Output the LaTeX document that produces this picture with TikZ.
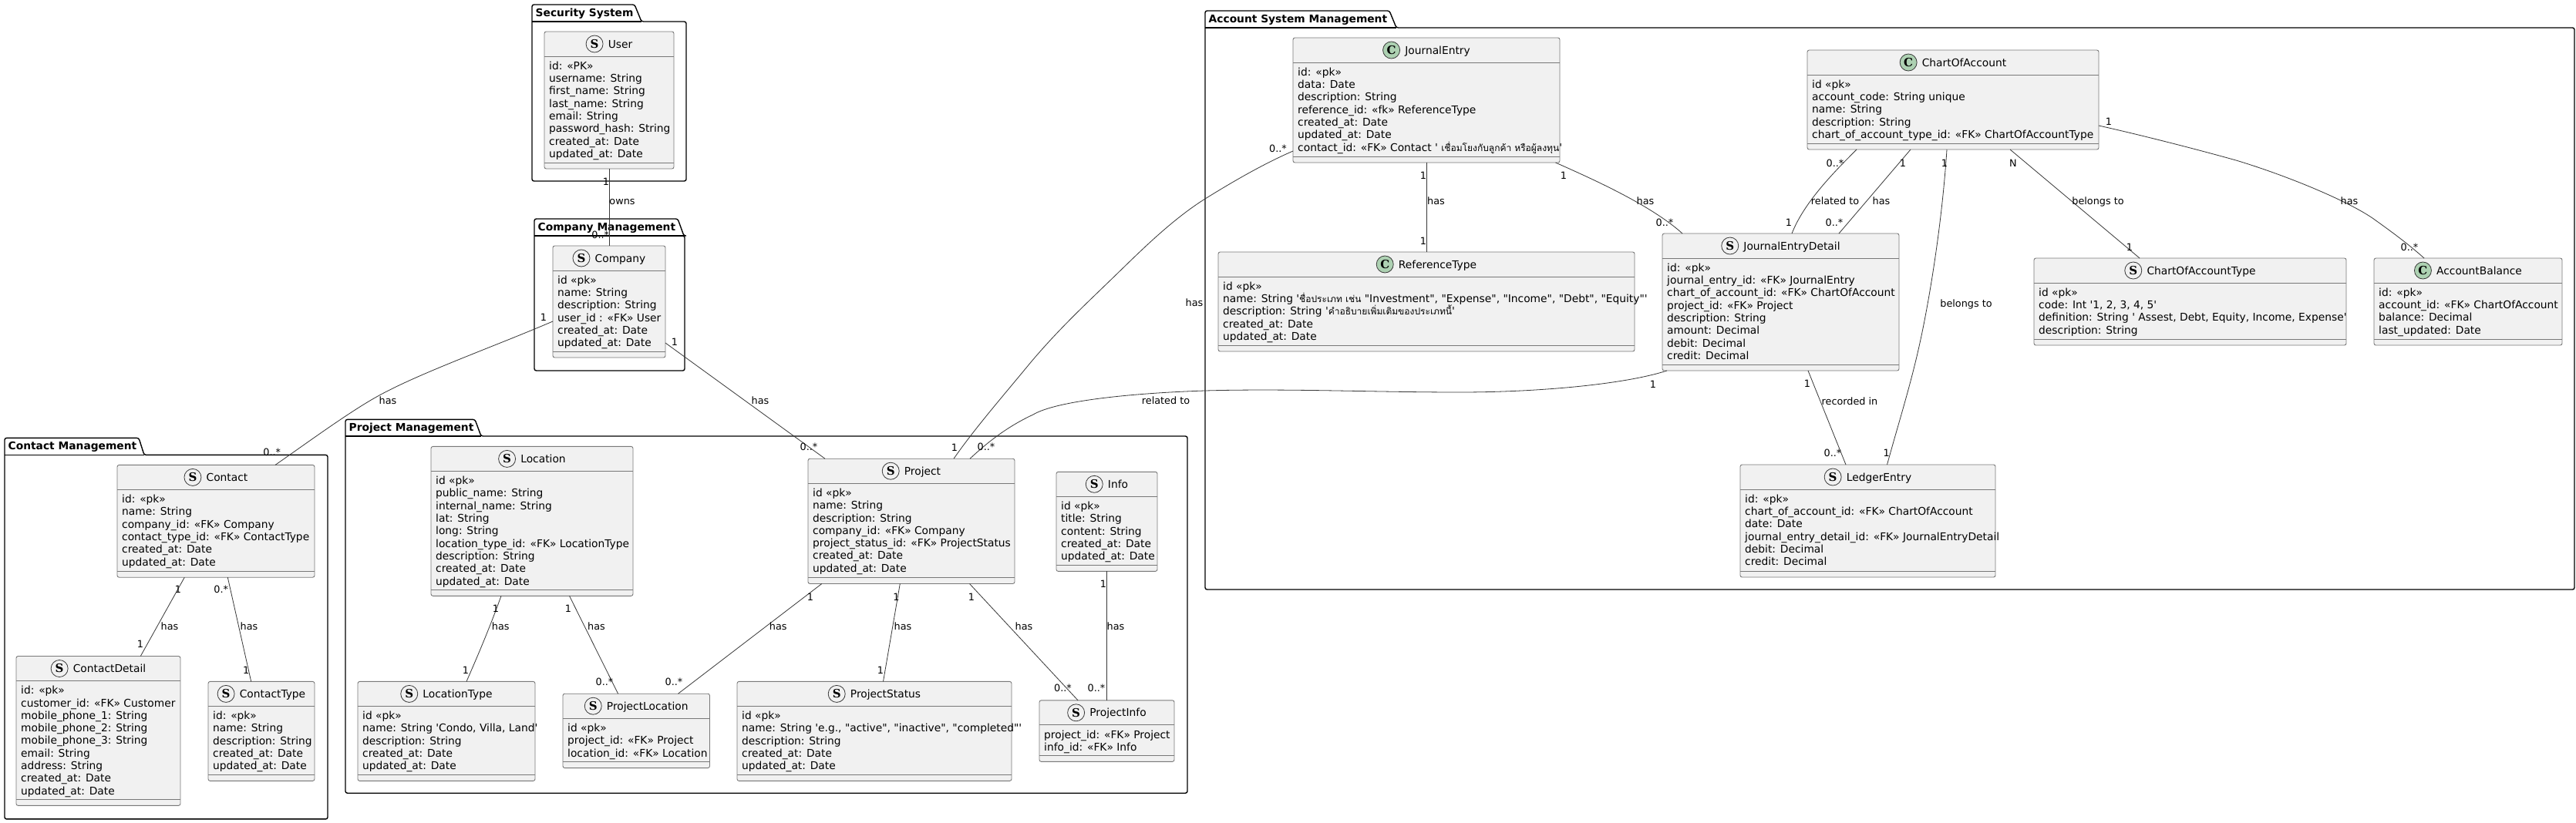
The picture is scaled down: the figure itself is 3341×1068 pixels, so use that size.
\documentclass[tikz,border=0pt]{standalone}
\usepackage{fontspec}
\newfontfamily\umlfont{DejaVu Sans}
\newfontfamily\iconfont{DejaVu Serif}
\newfontfamily\thaifont[Script=Thai]{Loma}
\newcommand{\umlbodyfont}{\umlfont\fontsize{13.8}{16.3}\selectfont}
\newcommand{\umllabfont}{\umlfont\fontsize{12.8}{15}\selectfont}
\newcommand{\umlpkgfont}{\umlfont\bfseries\fontsize{13.8}{16}\selectfont}
\newcommand{\umlthai}[1]{{\thaifont\fontsize{12}{16.3}\selectfont #1}}
\definecolor{boxfill}{HTML}{F1F1F1}
\definecolor{boxline}{HTML}{787878}
\definecolor{conncol}{HTML}{383838}
\definecolor{iconC}{HTML}{ADD1B2}
\tikzset{
  boxbody/.style={draw=boxline,fill=boxfill,line width=0.9pt,rounded corners=2.5pt,inner sep=0pt,outer sep=0pt,rectangle},
  boxrule/.style={draw=boxline,line width=0.9pt},
  boxtitle/.style={font=\umlbodyfont,inner sep=0pt,anchor=base,text=black},
  boxmembers/.style={font=\umlbodyfont,inner sep=0pt,anchor=north west,align=left,text=black},
  iconbase/.style={circle,draw=conncol,line width=0.8pt,minimum size=22pt,inner sep=0pt,font=\iconfont\bfseries\fontsize{15}{15}\selectfont},
  iconkindS/.style={iconbase,fill=boxfill},
  iconkindC/.style={iconbase,fill=iconC},
  pkgline/.style={draw=black,line width=1.4pt,rounded corners=2.5pt,line join=round},
  pkgtitle/.style={font=\umlpkgfont,inner sep=0pt,anchor=base west},
  conn/.style={draw=conncol,line width=0.8pt},
  lab/.style={font=\umllabfont,inner sep=0pt,anchor=center,text height=10pt,text depth=0pt,text=black},
}
% name, x1, y-tab, x-tab-right, x-tab-slant, y-body, x2, y2, title
\newcommand{\umlpkg}[9]{%
  \draw[pkgline] (#2,#6) -- (#2,#3) -- (#4,#3) -- (#5,#6) -- (#7,#6) -- (#7,#8) -- (#2,#8) -- cycle;
  \draw[draw=black,line width=1.4pt] (#2,#6) -- (#5,#6);
  \node[pkgtitle] (#1) at ({#2+4.5},{#3+15}) {#9};
}
% name, x1, y1, x2, y2, kind, title, members
\newcommand{\umlbox}[8]{%
  \node[boxbody,minimum width={(#4-#2)*1pt},minimum height={(#5-#3)*1pt}] (#1) at ({(#2+#4)/2},{(#3+#5)/2}) {};
  \draw[boxrule] ([yshift=-32pt]#1.north west) -- ([yshift=-32pt]#1.north east);
  \draw[boxrule] ([yshift=8pt]#1.south west) -- ([yshift=8pt]#1.south east);
  \node[boxtitle] (#1-title) at ([xshift=14.5pt,yshift=-21pt]#1.north) {#7};
  \node[iconkind#6] (#1-icon) at ([xshift=-17.5pt,yshift=5pt]#1-title.base west) {#6};
  \node[boxmembers] (#1-members) at ([xshift=6pt,yshift=-38pt]#1.north west) {\rule{0pt}{11pt}#8};
}
\newcommand{\lab}[4]{\node[lab] (#1) at (#2,#3) {#4};}
\begin{document}
\begin{tikzpicture}[x=1pt,y=-1pt]
\useasboundingbox (0,0) rectangle (3341,1068);
\fill[white] (0,0) rectangle (3341,1068);

% packages
\umlpkg{pkgSecurity}{690}{6}{823}{832}{28}{890}{235}{Security System}
\umlpkg{pkgCompany}{693}{284}{879}{887}{306}{888}{481}{Company Management}
\umlpkg{pkgAccount}{1563}{14}{1802}{1811}{36}{3339}{765}{Account System Management}
\umlpkg{pkgContact}{6}{568.4}{180}{187}{590.4}{425}{1062.9}{Contact Management}
\umlpkg{pkgProject}{448}{544.4}{616}{624}{566}{1540}{1029.2}{Project Management}

% boxes
\umlbox{user}{706}{41}{874}{219}{S}{User}{id: «PK»\\username: String\\first\_name: String\\last\_name: String\\email: String\\password\_hash: String\\created\_at: Date\\updated\_at: Date}
\umlbox{company}{717}{319}{863}{464}{S}{Company}{id «pk»\\name: String\\description: String\\user\_id : «FK» User\\created\_at: Date\\updated\_at: Date}
\umlbox{journal}{1677}{49}{2023}{211}{C}{JournalEntry}{id: «pk»\\data: Date\\description: String\\reference\_id: «fk» ReferenceType\\created\_at: Date\\updated\_at: Date\\contact\_id: «FK» Contact ' \umlthai{เชื่อมโยงกับลูกค้า หรือผู้ลงทุน}'}
\umlbox{reftype}{1580}{327}{2120}{456}{C}{ReferenceType}{id «pk»\\name: String  '\umlthai{ชื่อประเภท เช่น} "Investment", "Expense", "Income", "Debt", "Equity"'\\description: String  '\umlthai{คำอธิบายเพิ่มเติมของประเภทนี้}'\\created\_at: Date\\updated\_at: Date}
\umlbox{jed}{2156}{303}{2463}{481}{S}{JournalEntryDetail}{id: «pk»\\journal\_entry\_id: «FK» JournalEntry\\chart\_of\_account\_id: «FK» ChartOfAccount\\project\_id: «FK» Project\\description: String\\amount: Decimal\\debit: Decimal\\credit: Decimal}
\umlbox{coa}{2344}{65}{2722}{194}{C}{ChartOfAccount}{id «pk»\\account\_code: String unique\\name: String\\description: String\\chart\_of\_account\_type\_id: «FK» ChartOfAccountType}
\umlbox{coatype}{2638}{335}{3043}{448}{S}{ChartOfAccountType}{id «pk»\\code: Int '1, 2, 3, 4, 5'\\definition: String ' Assest, Debt, Equity, Income, Expense'\\description: String}
\umlbox{balance}{3079}{335}{3323}{448}{C}{AccountBalance}{id: «pk»\\account\_id: «FK» ChartOfAccount\\balance: Decimal\\last\_updated: Date}
\umlbox{ledger}{2257}{603}{2588}{749}{S}{LedgerEntry}{id: «pk»\\chart\_of\_account\_id: «FK» ChartOfAccount\\date: Date\\journal\_entry\_detail\_id: «FK» JournalEntryDetail\\debit: Decimal\\credit: Decimal}
\umlbox{contact}{152}{603.4}{408}{749.2}{S}{Contact}{id: «pk»\\name: String\\company\_id: «FK» Company\\contact\_type\_id: «FK» ContactType\\created\_at: Date\\updated\_at: Date}
\umlbox{cdetail}{21}{851.5}{234}{1045.4}{S}{ContactDetail}{id: «pk»\\customer\_id: «FK» Customer\\mobile\_phone\_1: String\\mobile\_phone\_2: String\\mobile\_phone\_3: String\\email: String\\address: String\\created\_at: Date\\updated\_at: Date}
\umlbox{ctype}{270}{884.4}{408}{1013.4}{S}{ContactType}{id: «pk»\\name: String\\description: String\\created\_at: Date\\updated\_at: Date}
\umlbox{location}{559}{579.4}{821}{773.3}{S}{Location}{id «pk»\\public\_name: String\\internal\_name: String\\lat: String\\long: String\\location\_type\_id: «FK» LocationType\\description: String\\created\_at: Date\\updated\_at: Date}
\umlbox{loctype}{464}{884.4}{694}{1013.4}{S}{LocationType}{id «pk»\\name: String 'Condo, Villa, Land'\\description: String\\created\_at: Date\\updated\_at: Date}
\umlbox{ploc}{730}{900.2}{920.5}{996.6}{S}{ProjectLocation}{id «pk»\\project\_id: «FK» Project\\location\_id: «FK» Location}
\umlbox{pstatus}{956}{884.4}{1312}{1013.4}{S}{ProjectStatus}{id «pk»\\name: String 'e.g., "active", "inactive", "completed"'\\description: String\\created\_at: Date\\updated\_at: Date}
\umlbox{project}{1048}{595.2}{1316}{757.5}{S}{Project}{id «pk»\\name: String\\description: String\\company\_id: «FK» Company\\project\_status\_id: «FK» ProjectStatus\\created\_at: Date\\updated\_at: Date}
\umlbox{info}{1370}{612.3}{1501}{741.4}{S}{Info}{id «pk»\\title: String\\content: String\\created\_at: Date\\updated\_at: Date}
\umlbox{pinfo}{1348}{908.8}{1523}{988.4}{S}{ProjectInfo}{project\_id: «FK» Project\\info\_id: «FK» Info}

% connectors
\draw[conn] (user.south -| 790.3,0) -- (company.north -| 790.3,0);
\draw[conn] (company.west |- 0,417) .. controls (640,450) and (547,483) .. (492,513) .. controls (455,533) and (395,577) .. (contact.north -| 357,0);
\draw[conn] (company.east |- 0,445) -- (project.north -| 1070,0);
\draw[conn] (journal.west |- 0,196) .. controls (1640,212) and (1600,235) .. (1563,258) .. controls (1520,285) and (1480,325) .. (1447,357) .. controls (1410,393) and (1375,425) .. (1337,470) .. controls (1300,515) and (1265,555) .. (project.north -| 1237,0);
\draw[conn] (jed.south -| 2162,0) .. controls (2110,498) and (2000,509) .. (1893,509) .. controls (1780,509) and (1670,504) .. (1563,507) .. controls (1470,510) and (1370,520) .. (1340,538) .. controls (1310,552) and (1285,570) .. (project.north -| 1258,0);
\draw[conn] (contact.south -| 239.3,0) -- (cdetail.north -| 182.3,0);
\draw[conn] (contact.south -| 295.3,0) -- (ctype.north -| 325.7,0);
\draw[conn] (location.south -| 650,0) .. controls (635,815) and (620,850) .. (loctype.north -| 605,0);
\draw[conn] (location.south -| 738.5,0) -- (ploc.north -| 801.6,0);
\draw[conn] (project.south -| 1065.8,0) -- (ploc.north -| 879.5,0);
\draw[conn] (project.south -| 1167.3,0) -- (pstatus.north -| 1145.5,0);
\draw[conn] (project.south -| 1257.5,0) -- (pinfo.north -| 1398,0);
\draw[conn] (info.south -| 1435.6,0) -- (pinfo.north -| 1435.6,0);
\draw[conn] (journal.south -| 1850,0) -- (reftype.north -| 1850,0);
\draw[conn] (journal.south -| 2017.5,0) .. controls (2060,230) and (2140,265) .. (jed.north -| 2182,0);
\draw[conn] (coa.south -| 2408,0) .. controls (2380,222) and (2340,262) .. (jed.north -| 2324,0);
\draw[conn] (coa.south -| 2478,0) -- (jed.north -| 2385,0);
\draw[conn] (coa.south -| 2525,0) .. controls (2518,300) and (2500,400) .. (2490,445) .. controls (2478,500) and (2462,550) .. (ledger.north -| 2447.5,0);
\draw[conn] (jed.south -| 2345,0) -- (ledger.north -| 2394,0);
\draw[conn] (coa.south -| 2607,0) -- (coatype.north -| 2775,0);
\draw[conn] (coa.east |- 0,163) .. controls (2780,176) and (2850,194) .. (2900,208) .. controls (2960,226) and (3040,258) .. (3077,283) .. controls (3105,303) and (3125,318) .. (balance.north -| 3144,0);

% connector labels
\lab{a1}{786}{235}{1}\lab{a2}{778.7}{304}{0..*}\lab{a3}{807}{260}{owns}
\lab{b1}{705}{411}{1}\lab{b2}{503}{519}{has}\lab{b3}{352.7}{586}{0..*}
\lab{c1}{875}{443}{1}\lab{c2}{986}{519}{has}\lab{c3}{1049}{579.8}{0..*}
\lab{d1}{1657.5}{192}{0..*}\lab{d2}{1549}{392}{has}\lab{d3}{1238}{580.8}{1}
\lab{e1}{2144}{498}{1}\lab{e2}{1512}{519}{related to}\lab{e3}{1279}{579.8}{0..*}
\lab{f1}{231}{764.7}{1}\lab{f2}{220}{812.4}{has}\lab{f3}{182}{835.4}{1}
\lab{g1}{286.7}{764.7}{0.*}\lab{g2}{323}{812.4}{has}\lab{g3}{319.3}{869}{1}
\lab{h1}{643}{789.7}{1}\lab{h2}{649.3}{812.4}{has}\lab{h3}{604}{869}{1}
\lab{i1}{737}{789.7}{1}\lab{i2}{773.5}{812.4}{has}\lab{i3}{784}{884.4}{0..*}
\lab{j1}{1051}{774}{1}\lab{j2}{1009.3}{812.4}{has}\lab{j3}{874}{884.4}{0..*}
\lab{k1}{1162.5}{774}{1}\lab{k2}{1171}{812.4}{has}\lab{k3}{1142}{869}{1}
\lab{m1}{1260}{774}{1}\lab{m2}{1328}{812.4}{has}\lab{m3}{1378.5}{892.7}{0..*}
\lab{n1}{1431}{757.5}{1}\lab{n2}{1447}{812.4}{has}\lab{n3}{1422}{892.7}{0..*}
\lab{o1}{1846}{227}{1}\lab{o2}{1862.5}{260}{has}\lab{o3}{1846}{312}{1}
\lab{p1}{2028}{227}{1}\lab{p2}{2134}{260}{has}\lab{p3}{2159}{288}{0..*}
\lab{q1}{2380}{211}{0..*}\lab{q2}{2380}{260}{related to}\lab{q3}{2320}{288}{1}
\lab{r1}{2468}{211}{1}\lab{r2}{2440}{260}{has}\lab{r3}{2379}{288}{0..*}
\lab{s1}{2522}{211}{1}\lab{s2}{2550}{393}{belongs to}\lab{s3}{2446.7}{587.7}{1}
\lab{t1}{2344}{497.7}{1}\lab{t2}{2399}{520}{recorded in}\lab{t3}{2377}{587.7}{0..*}
\lab{u1}{2611}{211}{N}\lab{u2}{2721}{260}{belongs to}\lab{u3}{2762}{320}{1}
\lab{v1}{2735}{157}{1}\lab{v2}{3047}{260}{has}\lab{v3}{3125}{320}{0..*}
\end{tikzpicture}
\end{document}
